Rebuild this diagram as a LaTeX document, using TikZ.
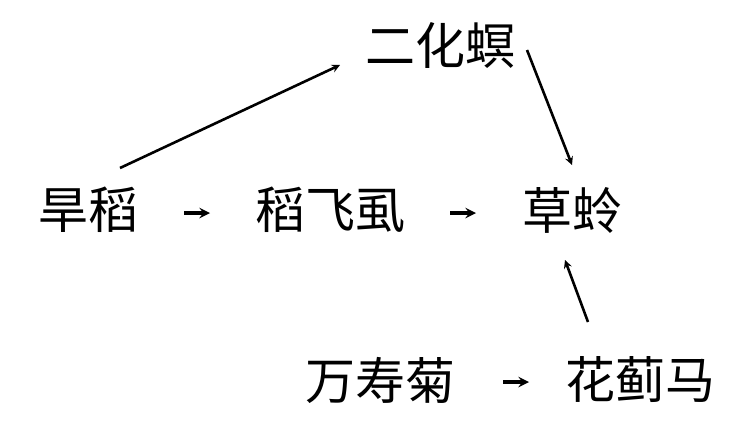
\documentclass[tikz,border=0pt]{standalone}
\usepackage{fontspec}
\newfontfamily\cjk{Noto Sans CJK SC}
\begin{document}
\begin{tikzpicture}[x=1pt,y=-1pt,
  lab/.style={font=\cjk\fontsize{50}{56}\selectfont, inner sep=0pt},
  con/.style={-stealth, line width=2.6pt},
  sm/.style={-stealth, line width=3.6pt}]
\useasboundingbox (0,0) rectangle (754,432);
\node[lab] (a) at (440,45) {二化螟};
\node[lab] (b) at (88,210) {旱稻};
\node[lab] (c) at (330,210) {稻飞虱};
\node[lab] (d) at (572,210) {草蛉};
\node[lab] (e) at (380,380) {万寿菊};
\node[lab] (f) at (640,380) {花蓟马};
\coordinate (bc1) at (184,213); \coordinate (bc2) at (210,213);
\coordinate (cd1) at (450,213); \coordinate (cd2) at (476,213);
\coordinate (ef1) at (503,382); \coordinate (ef2) at (529,382);
\draw[sm] (bc1) -- (bc2);
\draw[sm] (cd1) -- (cd2);
\draw[sm] (ef1) -- (ef2);
\coordinate (b1) at (120,168); \coordinate (a2) at (340,65);
\coordinate (a1) at (527,50); \coordinate (d2) at (572,165);
\coordinate (f1) at (588,322); \coordinate (d3) at (565,260);
\draw[con] (b1) -- (a2);
\draw[con] (a1) -- (d2);
\draw[con] (f1) -- (d3);
\end{tikzpicture}
\end{document}
